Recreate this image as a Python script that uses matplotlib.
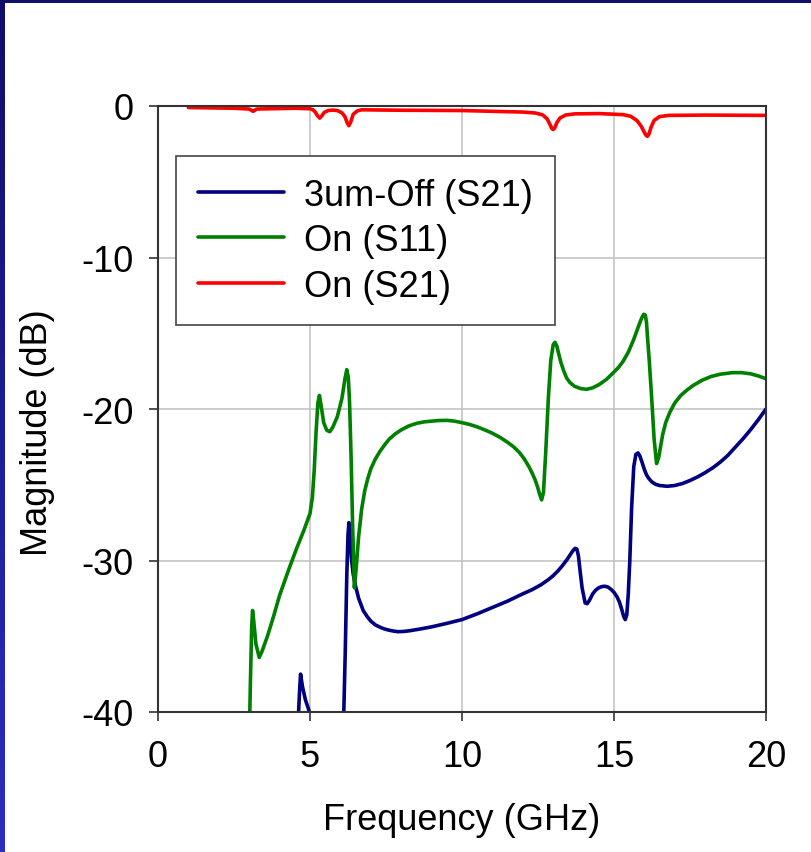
import numpy as np
import matplotlib
matplotlib.use("Agg")
import matplotlib.pyplot as plt

NAN = np.nan

# 3um-Off (S21), two visible pieces (clipped at -40 dB)
off_s21_f = [4.60, 4.66, 4.69, 4.75, 4.85, 4.95, 5.05, NAN,
             6.10, 6.16, 6.21, 6.25, 6.28, 6.31, 6.36, 6.42, 6.50, 6.60, 6.75,
             6.88, 7.00, 7.15, 7.30, 7.45, 7.60, 7.75, 7.90, 8.10, 8.30, 8.60,
             9.00, 9.50, 10.0, 10.5, 11.0, 11.5, 12.0, 12.3, 12.6, 12.85, 13.0,
             13.15, 13.3, 13.45, 13.55, 13.65, 13.72, 13.78, 13.83, 13.88, 13.95,
             14.05, 14.12, 14.2, 14.3, 14.4, 14.5, 14.6, 14.7, 14.8, 14.9, 15.0,
             15.1, 15.18, 15.25, 15.32, 15.37, 15.42, 15.47, 15.52, 15.58, 15.65,
             15.72, 15.79, 15.85, 15.92, 16.0, 16.07, 16.15, 16.25, 16.37, 16.5,
             16.75, 17.0, 17.25, 17.5, 17.75, 18.0, 18.25, 18.5, 18.75, 19.0,
             19.25, 19.5, 19.75, 20.0]
off_s21_db = [-41.0, -38.5, -37.5, -38.3, -39.2, -39.8, -40.5, NAN,
              -41.0, -36.0, -31.0, -28.3, -27.5, -28.0, -29.8, -30.9, -31.7, -32.5, -33.3,
              -33.7, -34.0, -34.25, -34.4, -34.52, -34.6, -34.66, -34.7, -34.68, -34.63, -34.53,
              -34.38, -34.15, -33.9, -33.52, -33.1, -32.68, -32.2, -31.93, -31.6, -31.25, -31.0,
              -30.7, -30.35, -29.95, -29.65, -29.35, -29.2, -29.25, -29.7, -30.6, -31.8,
              -32.8, -32.85, -32.6, -32.2, -31.95, -31.8, -31.72, -31.7, -31.75, -31.9, -32.1,
              -32.4, -32.75, -33.2, -33.7, -33.9, -33.6, -32.2, -30.0, -26.5, -23.8,
              -23.0, -22.9, -23.1, -23.5, -24.0, -24.35, -24.6, -24.82, -24.97, -25.05,
              -25.1, -25.05, -24.92, -24.72, -24.48, -24.2, -23.88, -23.5, -23.05, -22.5,
              -21.95, -21.35, -20.7, -20.0]

# On (S11)
on_s11_f = [3.00, 3.04, 3.08, 3.11, 3.15, 3.22, 3.33, 3.42, 3.60, 3.80, 4.00,
            4.30, 4.56, 4.80, 5.00, 5.08, 5.14, 5.20, 5.26, 5.31, 5.36, 5.45,
            5.55, 5.65, 5.75, 5.90, 6.05, 6.15, 6.21, 6.26, 6.30, 6.35, 6.40,
            6.46, 6.52, 6.60, 6.70, 6.80, 6.90, 7.00, 7.15, 7.30, 7.45, 7.60,
            7.80, 8.00, 8.25, 8.50, 8.75, 9.00, 9.25, 9.50, 9.75, 10.0, 10.25,
            10.5, 10.75, 11.0, 11.25, 11.5, 11.7, 11.9, 12.05, 12.2, 12.3, 12.4,
            12.48, 12.55, 12.62, 12.68, 12.75, 12.84, 12.92, 13.00, 13.06, 13.12,
            13.18, 13.25, 13.34, 13.44, 13.55, 13.7, 13.9, 14.1, 14.3, 14.5,
            14.75, 14.98, 15.15, 15.3, 15.47, 15.64, 15.75, 15.85, 15.92, 15.98,
            16.03, 16.07, 16.10, 16.16, 16.24, 16.32, 16.40, 16.47, 16.53, 16.60,
            16.7, 16.84, 17.0, 17.2, 17.4, 17.6, 17.9, 18.2, 18.5, 18.9, 19.2,
            19.5, 19.75, 20.0]
on_s11_db = [-42.0, -38.0, -34.5, -33.3, -34.0, -35.5, -36.4, -36.0, -35.0, -33.7, -32.3,
             -30.6, -29.2, -28.0, -26.9, -25.8, -24.0, -21.5, -19.6, -19.1, -19.7, -20.9,
             -21.4, -21.5, -21.2, -20.5, -19.3, -18.0, -17.4, -17.9, -19.5, -23.0, -27.5,
             -31.8, -30.5, -28.4, -26.6, -25.4, -24.6, -23.95, -23.3, -22.8, -22.38, -22.0,
             -21.65, -21.38, -21.12, -20.95, -20.85, -20.8, -20.76, -20.75, -20.8, -20.9, -21.02,
             -21.18, -21.38, -21.6, -21.87, -22.2, -22.5, -22.9, -23.3, -23.8, -24.2, -24.65,
             -25.1, -25.6, -26.0, -25.5, -23.0, -19.3, -16.8, -15.75, -15.6, -15.85,
             -16.35, -16.9, -17.45, -17.95, -18.25, -18.5, -18.65, -18.7, -18.6, -18.4,
             -18.05, -17.6, -17.25, -16.85, -16.25, -15.45, -14.85, -14.3, -13.95, -13.75,
             -13.8, -14.3, -15.2, -16.8, -19.3, -22.0, -23.6, -23.2, -22.5, -21.7,
             -20.9, -20.2, -19.6, -19.1, -18.75, -18.45, -18.1, -17.85, -17.7, -17.6, -17.6,
             -17.68, -17.82, -18.0]

# On (S21)
on_s21_f = [1.0, 2.5, 3.0, 3.13, 3.25, 4.5, 5.0, 5.1, 5.18, 5.25, 5.32, 5.39, 5.47,
            5.6, 5.75, 5.9, 6.05, 6.15, 6.22, 6.28, 6.34, 6.42, 6.55, 6.7, 8.0, 10.0,
            12.0, 12.4, 12.65, 12.8, 12.9, 12.96, 13.0, 13.05, 13.12, 13.22, 13.4, 13.7,
            14.5, 15.3, 15.55, 15.75, 15.9, 16.0, 16.06, 16.1, 16.15, 16.22, 16.32,
            16.5, 16.8, 18.0, 20.0]
on_s21_db = [-0.1, -0.15, -0.2, -0.35, -0.2, -0.15, -0.18, -0.25, -0.42, -0.65, -0.8, -0.65,
             -0.42, -0.3, -0.27, -0.3, -0.45, -0.7, -1.1, -1.3, -1.05, -0.55, -0.33, -0.25,
             -0.28, -0.3, -0.4, -0.46, -0.58, -0.85, -1.25, -1.5, -1.55, -1.45, -1.1, -0.8,
             -0.6, -0.52, -0.5, -0.57, -0.68, -0.95, -1.35, -1.75, -1.95, -2.0, -1.85, -1.4,
             -0.95, -0.7, -0.62, -0.6, -0.62]

x_ticks = [0, 5, 10, 15, 20]
y_ticks = [0, -10, -20, -30, -40]

NAVY = "#000080"
GREEN = "#008000"
RED = "#ff0000"
SPINE = "#333333"
GRID = "#c0c0c0"

plt.rcParams.update({
    "font.family": ["Liberation Sans", "DejaVu Sans"],
    "font.size": 26,
    "axes.unicode_minus": False,
})

fig = plt.figure(figsize=(8.11, 8.53), dpi=100, facecolor="white")

# dark blue frame strips (top and left)
top = fig.add_axes([0, 1 - 4 / 853, 1, 4 / 853])
top.set_facecolor("#0f0f6e")
top.set_xticks([])
top.set_yticks([])
for s in top.spines.values():
    s.set_visible(False)
left = fig.add_axes([0, 0, 5 / 811, 1])
grad = np.linspace(0, 1, 256).reshape(-1, 1)
cmap = matplotlib.colors.LinearSegmentedColormap.from_list("edge", ["#0e0e6a", "#2d2dc2"])
left.imshow(grad, aspect="auto", cmap=cmap, origin="upper")
left.axis("off")

ax = fig.add_axes([158 / 811, 1 - 713 / 853, 608 / 811, 606 / 853])
ax.set_facecolor("white")

style = dict(lw=2.6, solid_joinstyle="round", solid_capstyle="round")
ax.plot(off_s21_f, off_s21_db, color=NAVY, label="3um-Off (S21)", **style)
ax.plot(on_s11_f, on_s11_db, color=GREEN, label="On (S11)", **style)
ax.plot(on_s21_f, on_s21_db, color=RED, label="On (S21)", **style)

ax.set_xlim(0, 20)
ax.set_ylim(-40, 0)
ax.set_xticks(x_ticks)
ax.set_yticks(y_ticks)
ax.grid(True, color=GRID, lw=1.1)
ax.set_axisbelow(True)
for s in ax.spines.values():
    s.set_color(SPINE)
    s.set_linewidth(1.5)
ax.tick_params(axis="both", direction="out", length=6.5, width=1.2, color=SPINE,
               labelsize=26)
ax.tick_params(axis="x", pad=13)
ax.tick_params(axis="y", pad=11)

ax.set_xlabel("Frequency (GHz)", fontsize=26)
ax.set_ylabel("Magnitude (dB)", fontsize=26)
ax.xaxis.set_label_coords(0.5, -0.148)
ax.yaxis.set_label_coords(-0.17, 0.462)

leg = ax.legend(loc="upper left", bbox_to_anchor=(0.0296, 0.9175), borderaxespad=0,
                fontsize=26, handlelength=2.4, handletextpad=0.55, labelspacing=0.29,
                borderpad=0.6, fancybox=False, framealpha=1, edgecolor="#444444")
leg.get_frame().set_linewidth(1.2)

fig.savefig("out.png", dpi=100, facecolor="white")
